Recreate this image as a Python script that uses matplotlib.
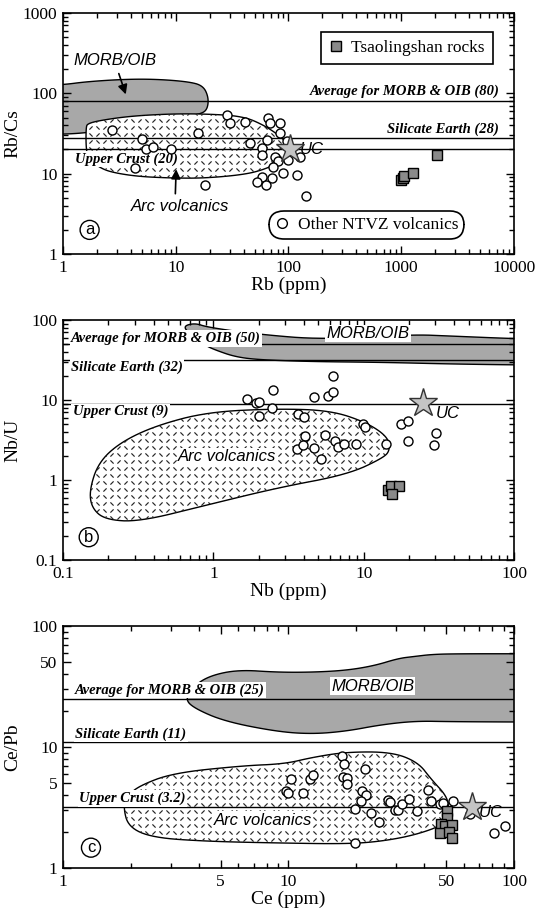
import matplotlib
matplotlib.use('Agg')
import matplotlib.pyplot as plt
import matplotlib.ticker as ticker
import numpy as np
from matplotlib.patches import Polygon
from matplotlib.collections import LineCollection
from matplotlib.lines import Line2D

plt.rcParams['font.family'] = ['Liberation Serif', 'DejaVu Serif']

# ---- panel a : Rb/Cs vs Rb ----
rb_ntvz = [2.7, 5.0, 5.5, 6.3, 9.0, 4.35, 15.8, 18.2, 28.2, 30.3, 41.1, 45.6, 66.2, 68.5,
           84.1, 84.1, 64.1, 57.9, 57.9, 75.9, 81.2, 99.5, 126.5, 73.3, 89.9, 118.3, 71,
           57.9, 52.2, 63.2, 143, 97]
rbcs_ntvz = [34.8, 27.1, 20.5, 21.2, 20.3, 11.7, 32.2, 7.3, 53.6, 42.7, 44.4, 23.9, 48.9, 42.4,
             43.1, 31.8, 26.2, 20.7, 17.1, 16.3, 14.5, 14.8, 16.3, 12.2, 10.3, 9.6, 8.75,
             9.0, 7.94, 7.23, 5.27, 25.4]
rb_tsao = [1000, 1040, 1060, 1264, 2075]
rbcs_tsao = [8.3, 8.75, 9.4, 10.3, 17.1]
rb_uc, rbcs_uc = 103, 20.1
ref_a = [80, 28, 20]
morb_a_x = [0.7, 1.0, 1.64, 3.57, 6.75, 12.8, 17.5, 19.6, 19.0, 16.3, 10, 5, 2.5, 1.5, 1.0, 0.7]
morb_a_y = [128, 128, 140, 150, 150, 140, 125, 88, 62, 55, 48, 41, 35, 32, 31, 31]
arc_a_x = [1.6, 1.66, 2.13, 3.93, 8.9, 18.2, 39.5, 62, 88, 106, 94, 60.5, 39.5, 18.2, 9.6,
           4.74, 2.89, 2.2, 1.7, 1.6]
arc_a_y = [38, 42, 46, 52, 55.5, 55.5, 52, 39.5, 28, 20.5, 15, 11.2, 9.7, 8.8, 8.8,
           9.2, 10.2, 11.5, 15, 20]

# ---- panel b : Nb/U vs Nb ----
nb_ntvz = [1.68, 1.93, 2.0, 2.0, 2.5, 2.46, 3.65, 3.99, 4.1, 3.59, 3.94, 4.69, 4.69, 5.21, 5.5,
           5.8, 6.3, 6.3, 6.45, 6.7, 7.36, 8.9, 9.86, 10.2, 14, 17.7, 19.7, 19.7, 30.2, 29.2]
nbu_ntvz = [10.4, 9.3, 9.5, 6.4, 13.3, 7.9, 6.6, 6.2, 3.5, 2.44, 2.75, 10.8, 2.5, 1.83, 3.65,
            11.2, 12.7, 20.1, 3.1, 2.6, 2.86, 2.86, 5.0, 4.6, 2.8, 5.0, 5.4, 3.1, 3.83, 2.74]
nb_tsao = [14.6, 15.1, 17.3, 15.4]
nbu_tsao = [0.76, 0.84, 0.84, 0.66]
nb_uc, nbu_uc = 24.8, 9.1
ref_b = [50, 32, 9]
morb_b_x = [0.62, 0.75, 0.92, 2.03, 5.36, 20.8, 38.4, 100, 130, 130, 100, 38.4, 13.2, 4.56,
            2.05, 1.41, 1.03, 0.875, 0.75]
morb_b_y = [82.5, 92, 81, 66, 57, 66, 63, 58.5, 58.5, 27.5, 27.5, 28.2, 29.6, 30.2,
            31.8, 34.5, 42.2, 48.7, 61.7]
arc_b_x = [0.15, 0.172, 0.24, 0.416, 0.92, 2.68, 6.0, 10.3, 14.4, 15.0, 13.6, 7.8, 2.68, 0.92,
           0.32, 0.19, 0.155]
arc_b_y = [0.75, 1.65, 2.95, 4.8, 7.1, 7.8, 7.4, 5.3, 3.5, 2.4, 1.9, 1.17, 0.8, 0.49,
           0.3, 0.32, 0.45]

# ---- panel c : Ce/Pb vs Ce ----
ce_ntvz = [17.3, 17.7, 17.5, 18.1, 18.1, 21.8, 10.25, 9.78, 9.9, 11.6, 12.5, 12.9, 21.2, 22.1,
           21, 19.7, 23.2, 25.3, 27.6, 28.1, 29.7, 30.7, 31.8, 34.2, 37.3, 41.5, 43, 47, 53.8,
           63.5, 19.7, 81.4, 91.2, 48.6]
cepb_ntvz = [8.45, 7.3, 5.66, 5.57, 4.99, 6.6, 5.42, 4.31, 4.17, 4.17, 5.49, 5.92, 4.31, 4.0,
             3.56, 3.06, 2.87, 2.40, 3.62, 3.5, 3.0, 3.04, 3.37, 3.7, 2.94, 4.39, 3.56, 3.4, 3.56,
             2.78, 1.62, 1.95, 2.23, 3.43]
ce_tsao = [50.3, 50.3, 47.3, 49.4, 53.2, 47, 51.6, 53.2]
cepb_tsao = [2.98, 2.57, 2.31, 2.22, 2.27, 1.96, 2.0, 1.76]
ce_uc, cepb_uc = 64.9, 3.21
ref_c = [25, 11, 3.2]
morb_c_x = [3.48, 3.8, 5.2, 8.9, 12.7, 18, 25.8, 36.7, 52.5, 100, 130, 130, 100, 60, 44, 36,
            30.7, 24, 18, 12.7, 8.9, 6.0, 4.5, 3.8]
morb_c_y = [25, 21, 16.3, 13.4, 12.8, 13.5, 15.3, 16.4, 16.2, 16.1, 16.1, 59, 59, 59,
            58.5, 56, 54, 47, 43, 41.5, 41.5, 43.5, 39, 32]
arc_c_x = [1.85, 1.93, 2.16, 3.07, 6.25, 9.6, 12.7, 18, 28.6, 37.5, 43, 50.5, 51.5, 49.5, 36.7,
           25.8, 18, 8.9, 4.38, 2.5, 1.95]
arc_c_y = [3.2, 3.9, 4.75, 6.1, 7.0, 7.25, 8.2, 9.1, 9.1, 7.5, 5.4, 3.9, 3.0, 2.3, 1.88,
           1.66, 1.58, 1.61, 1.66, 1.78, 2.18]

MORB_GRAY = '#a8a8a8'
SQ_GRAY = '#8a8a8a'
STAR_GRAY = '#c4c4c4'
LBL = dict(family='Liberation Serif', style='italic', weight='bold', fontsize=10.5)
SANS = dict(family='Liberation Sans', style='italic', fontsize=12)
WHITE = dict(facecolor='white', edgecolor='none', pad=1.0)


def smooth(xs, ys, n=3):
    # chaikin corner cutting in log space, only to round the field outlines
    p = np.column_stack([np.log10(xs), np.log10(ys)])
    for _ in range(n):
        nxt = np.roll(p, -1, axis=0)
        q = np.empty((2 * len(p), 2))
        q[0::2] = 0.75 * p + 0.25 * nxt
        q[1::2] = 0.25 * p + 0.75 * nxt
        p = q
    return 10 ** p


def field(ax, xs, ys, fc, z):
    poly = Polygon(smooth(xs, ys), closed=True, facecolor=fc, edgecolor='k', lw=1.0, zorder=z)
    ax.add_patch(poly)
    return poly


def diamond_plate(ax, patch, step=7.0, dash=4.5):
    fig = ax.figure
    pos = ax.get_position()
    wpx = pos.width * fig.get_figwidth() * fig.dpi
    hpx = pos.height * fig.get_figheight() * fig.dpi
    segs = []
    h = dash / 2 / np.sqrt(2)
    for i in range(int(wpx / step) + 2):
        for j in range(int(hpx / step) + 2):
            cx, cy = i * step, j * step
            s = 1 if (i + j) % 2 == 0 else -1
            segs.append([((cx - h) / wpx, (cy - s * h) / hpx), ((cx + h) / wpx, (cy + s * h) / hpx)])
    lc = LineCollection(segs, colors='0.15', linewidths=0.85, transform=ax.transAxes,
                        zorder=patch.get_zorder() + 0.05)
    ax.add_collection(lc)
    lc.set_clip_path(patch)


def style_axes(ax, xlim, ylim, xlabel, ylabel, xmaj=None, ymaj=None):
    ax.set_xscale('log')
    ax.set_yscale('log')
    ax.set_xlim(*xlim)
    ax.set_ylim(*ylim)
    if xmaj is not None:
        ax.xaxis.set_major_locator(ticker.FixedLocator(xmaj))
    if ymaj is not None:
        ax.yaxis.set_major_locator(ticker.FixedLocator(ymaj))
    fmt = ticker.FuncFormatter(lambda v, p: '%g' % v)
    ax.xaxis.set_major_formatter(fmt)
    ax.yaxis.set_major_formatter(fmt)
    ax.xaxis.set_minor_formatter(ticker.NullFormatter())
    ax.yaxis.set_minor_formatter(ticker.NullFormatter())
    ax.tick_params(which='both', direction='in', top=True, right=True, labelsize=12.5, width=1)
    ax.tick_params(which='major', length=6, pad=4)
    ax.tick_params(which='minor', length=3.5)
    for sp in ax.spines.values():
        sp.set_linewidth(1.2)
    ax.set_xlabel(xlabel, fontsize=14, labelpad=1)
    ax.set_ylabel(ylabel, fontsize=14)
    ax.yaxis.set_label_coords(-0.092, 0.5)


def points(ax, x, y, xt, yt, xs, ys):
    ax.plot(x, y, 'o', ms=6.5, mfc='white', mec='k', mew=1.0, zorder=6)
    ax.plot(xt, yt, 's', ms=6.5, mfc=SQ_GRAY, mec='k', mew=1.0, zorder=6)
    ax.plot([xs], [ys], '*', ms=21, mfc=STAR_GRAY, mec='0.2', mew=1.0, zorder=7)


def circled(ax, x, y, letter):
    ax.text(x, y, letter, transform=ax.transAxes, ha='center', va='center',
            family='Liberation Sans', fontsize=12,
            bbox=dict(boxstyle='circle,pad=0.12', facecolor='white', edgecolor='k', lw=1.0),
            zorder=8)


fig = plt.figure(figsize=(5.45, 9.11), dpi=100)
ax1 = fig.add_axes([0.1156, 0.7212, 0.8275, 0.2645])
ax2 = fig.add_axes([0.1156, 0.3853, 0.8275, 0.2634])
ax3 = fig.add_axes([0.1156, 0.0472, 0.8275, 0.2656])

# panel a
style_axes(ax1, (1, 10000), (1, 1000), 'Rb (ppm)', 'Rb/Cs')
field(ax1, morb_a_x, morb_a_y, MORB_GRAY, 1)
pa = field(ax1, arc_a_x, arc_a_y, 'white', 2)
diamond_plate(ax1, pa)
for v in ref_a:
    ax1.axhline(v, color='k', lw=1.0, zorder=3)
ax1.text(7400, 105, 'Average for MORB & OIB (80)', ha='right', va='center', zorder=4, bbox=WHITE, **LBL)
ax1.text(7400, 35.8, 'Silicate Earth (28)', ha='right', va='center', zorder=4, bbox=WHITE, **LBL)
ax1.text(1.28, 15.1, 'Upper Crust (20)', ha='left', va='center', zorder=4, bbox=WHITE, **LBL)
ax1.text(2.92, 255, 'MORB/OIB', ha='center', va='center', **SANS)
ax1.annotate('', xy=(3.67, 90), xytext=(3.07, 190),
             arrowprops=dict(arrowstyle='-|>', color='k', lw=1.2, mutation_scale=14), zorder=5)
ax1.text(10.8, 3.88, 'Arc volcanics', ha='center', va='center', **SANS)
ax1.annotate('', xy=(10.1, 12.3), xytext=(9.9, 5.2),
             arrowprops=dict(arrowstyle='-|>', color='k', lw=1.2, mutation_scale=14), zorder=5)
ax1.text(127, 20.1, 'UC', ha='left', va='center', zorder=7, **SANS)
points(ax1, rb_ntvz, rbcs_ntvz, rb_tsao, rbcs_tsao, rb_uc, rbcs_uc)
circled(ax1, 0.059, 0.10, 'a')
h_sq = Line2D([], [], marker='s', ls='none', ms=7, mfc=SQ_GRAY, mec='k', mew=1.0)
h_ci = Line2D([], [], marker='o', ls='none', ms=7, mfc='white', mec='k', mew=1.0)
leg1 = ax1.legend([h_sq], ['Tsaolingshan rocks'], loc='upper right', bbox_to_anchor=(0.953, 0.921),
                  fancybox=False, edgecolor='k', framealpha=1, fontsize=12.5, handlelength=0.8,
                  handletextpad=0.5, borderpad=0.45, borderaxespad=0)
leg1.get_frame().set_linewidth(1.2)
ax1.add_artist(leg1)
leg2 = ax1.legend([h_ci], ['Other NTVZ volcanics'], loc='lower right', bbox_to_anchor=(0.89, 0.062),
                  fancybox=True, edgecolor='k', framealpha=1, fontsize=12.5, handlelength=0.8,
                  handletextpad=0.5, borderpad=0.35, borderaxespad=0)
leg2.get_frame().set_boxstyle('round', pad=0, rounding_size=0.85)
leg2.get_frame().set_linewidth(1.2)

# panel b
style_axes(ax2, (0.1, 100), (0.1, 100), 'Nb (ppm)', 'Nb/U')
field(ax2, morb_b_x, morb_b_y, MORB_GRAY, 1)
pb = field(ax2, arc_b_x, arc_b_y, 'white', 2)
diamond_plate(ax2, pb)
for v in ref_b:
    ax2.axhline(v, color='k', lw=1.0, zorder=3)
ax2.text(0.113, 59, 'Average for MORB & OIB (50)', ha='left', va='center', zorder=4, bbox=WHITE, **LBL)
ax2.text(0.113, 25.4, 'Silicate Earth (32)', ha='left', va='center', zorder=4, bbox=WHITE, **LBL)
ax2.text(0.116, 7.14, 'Upper Crust (9)', ha='left', va='center', zorder=4, bbox=WHITE, **LBL)
ax2.text(10.7, 68, 'MORB/OIB', ha='center', va='center', zorder=4, bbox=WHITE, **SANS)
ax2.text(1.24, 1.96, 'Arc volcanics', ha='center', va='center', zorder=4, bbox=WHITE, **SANS)
ax2.text(30.2, 6.7, 'UC', ha='left', va='center', zorder=7, **SANS)
points(ax2, nb_ntvz, nbu_ntvz, nb_tsao, nbu_tsao, nb_uc, nbu_uc)
circled(ax2, 0.057, 0.095, 'b')

# panel c
style_axes(ax3, (1, 100), (1, 100), 'Ce (ppm)', 'Ce/Pb', xmaj=[1, 5, 10, 50, 100], ymaj=[1, 5, 10, 50, 100])
field(ax3, morb_c_x, morb_c_y, MORB_GRAY, 1)
pc = field(ax3, arc_c_x, arc_c_y, 'white', 2)
diamond_plate(ax3, pc)
for v in ref_c:
    ax3.axhline(v, color='k', lw=1.0, zorder=3)
ax3.text(1.13, 29.5, 'Average for MORB & OIB (25)', ha='left', va='center', zorder=4, bbox=WHITE, **LBL)
ax3.text(1.13, 12.8, 'Silicate Earth (11)', ha='left', va='center', zorder=4, bbox=WHITE, **LBL)
ax3.text(1.18, 3.75, 'Upper Crust (3.2)', ha='left', va='center', zorder=4, bbox=WHITE, **LBL)
ax3.text(23.6, 31.9, 'MORB/OIB', ha='center', va='center', zorder=4, bbox=WHITE, **SANS)
ax3.text(7.7, 2.48, 'Arc volcanics', ha='center', va='center', zorder=4, bbox=WHITE, **SANS)
ax3.text(70, 2.9, 'UC', ha='left', va='center', zorder=7, **SANS)
points(ax3, ce_ntvz, cepb_ntvz, ce_tsao, cepb_tsao, ce_uc, cepb_uc)
circled(ax3, 0.062, 0.084, 'c')

fig.savefig('out.png', dpi=100)
